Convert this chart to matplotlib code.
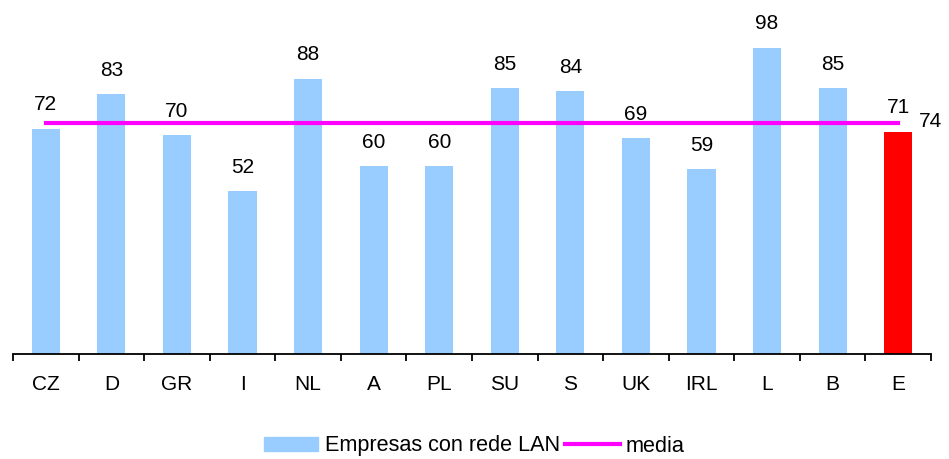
import numpy as np
import matplotlib.pyplot as plt
from matplotlib.patches import Patch
from matplotlib.lines import Line2D

plt.rcParams['font.family'] = ['Liberation Sans', 'DejaVu Sans']

# Datos
paises = ["CZ", "D", "GR", "I", "NL", "A", "PL", "SU", "S", "UK", "IRL", "L", "B", "E"]
lan = [72, 83, 70, 52, 88, 60, 60, 85, 84, 69, 59, 98, 85, 71]
media = 74

fig = plt.figure(figsize=(9.49, 4.59), dpi=100)
ax = fig.add_axes([13 / 949, 105 / 459, 918 / 949, 344 / 459])

x = np.arange(len(paises))
cores = ["#99CCFF"] * (len(paises) - 1) + ["#FF0000"]
ax.bar(x, lan, width=0.43, color=cores)
ax.plot(x, [media] * len(x), color="#FF00FF", lw=3)

# Etiquetas das barras
for xi, v in zip(x, lan):
    ax.annotate(str(v), (xi, v), xytext=(0, 24), textcoords="offset pixels",
                ha="center", va="center", fontsize=15)
ax.annotate(str(media), (x[-1], media), xytext=(32, 1), textcoords="offset pixels",
            ha="center", va="center", fontsize=15)

ax.set_xlim(-0.5, len(paises) - 0.5)
ax.set_ylim(0, 110)
for s in ["top", "right", "left"]:
    ax.spines[s].set_visible(False)
ax.spines["bottom"].set_linewidth(1.3)
ax.set_yticks([])
ax.set_xticks(x)
ax.set_xticklabels(paises, fontsize=15)
ax.tick_params(axis="x", which="major", length=0, pad=15)
ax.set_xticks(np.arange(-0.5, len(paises)), minor=True)
ax.tick_params(axis="x", which="minor", length=5, width=1.3, direction="out")

# Lenda
handles = [Patch(color="#99CCFF"), Line2D([], [], color="#FF00FF", lw=3)]
fig.legend(handles, ["Empresas con rede LAN", "media"], loc="center",
           bbox_to_anchor=(0.5, 1 - 446 / 459), ncol=2, frameon=False, fontsize=15.6,
           handlelength=2.5, handleheight=0.6, handletextpad=0.3, columnspacing=0.25,
           borderpad=0.1)

fig.savefig("out.png", dpi=100)
